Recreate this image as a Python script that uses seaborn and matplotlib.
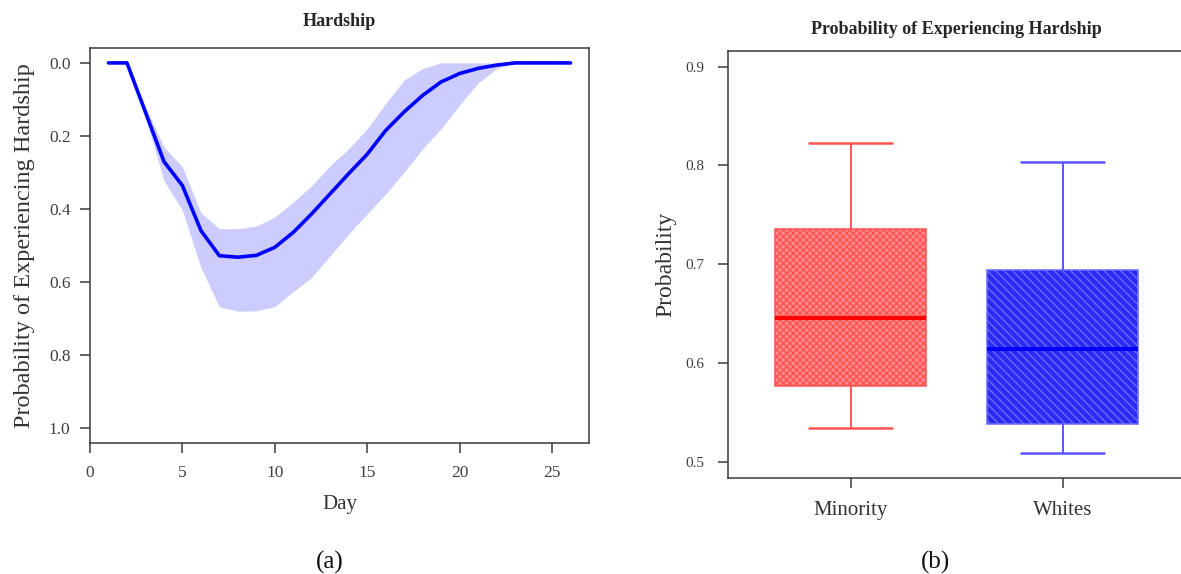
import numpy as np
import pandas as pd
import matplotlib
matplotlib.use("Agg")
import matplotlib.pyplot as plt
import seaborn as sns

# ---------------- data ----------------
days = list(range(1, 27))
prob_mean = [0.0, 0.0, 0.135, 0.27, 0.336, 0.459, 0.528, 0.532, 0.527, 0.505,
             0.464, 0.413, 0.358, 0.303, 0.250, 0.185, 0.134, 0.089, 0.052, 0.029,
             0.015, 0.006, 0.0, 0.0, 0.0, 0.0]
band_low = [0.0, 0.0, 0.12, 0.23, 0.285, 0.41, 0.454, 0.454, 0.447, 0.422,
            0.381, 0.336, 0.281, 0.235, 0.18, 0.111, 0.047, 0.015, 0.0, 0.0,
            0.0, 0.0, 0.0, 0.0, 0.0, 0.0]
band_high = [0.0, 0.0, 0.15, 0.322, 0.404, 0.56, 0.668, 0.68, 0.679, 0.667,
             0.626, 0.587, 0.528, 0.468, 0.413, 0.359, 0.299, 0.235, 0.18, 0.115,
             0.055, 0.015, 0.0, 0.0, 0.0, 0.0]
left_xticks = [0, 5, 10, 15, 20, 25]
left_yticks = [0.0, 0.2, 0.4, 0.6, 0.8, 1.0]

groups = ["Minority", "Whites"]
# five-number summaries (min, Q1, median, Q3, max)
minority_vals = [0.534, 0.577, 0.6455, 0.7356, 0.823]
whites_vals = [0.5087, 0.5386, 0.6145, 0.6944, 0.803]
right_yticks = [0.5, 0.6, 0.7, 0.8, 0.9]

# ---------------- style ----------------
sns.set_theme(style="ticks")
plt.rcParams["font.family"] = ["Liberation Serif", "DejaVu Serif"]
plt.rcParams["hatch.linewidth"] = 1.0
spine_col = "#3a3a3a"
tick_col = "#404040"

fig = plt.figure(figsize=(11.81, 5.74), dpi=100)
W, H = 1181, 574

def axes_px(l, t, r, b):
    return fig.add_axes([l / W, 1 - b / H, (r - l) / W, (b - t) / H])

# ---------------- panel (a) ----------------
ax1 = axes_px(90, 48.3, 589, 442.7)
line_df = pd.DataFrame({"Day": days, "p": prob_mean})
ax1.fill_between(days, band_low, band_high, color="#CCCCFF", linewidth=0)
sns.lineplot(data=line_df, x="Day", y="p", color="#0000FF", linewidth=2.6, ax=ax1)
ax1.set_xlim(0, 27)
ax1.set_ylim(1.04, -0.04)
ax1.set_xticks(left_xticks)
ax1.set_yticks(left_yticks)
ax1.set_yticklabels([f"{v:.1f}" for v in left_yticks])
ax1.set_title("Hardship", fontsize=13, fontweight="bold", pad=16)
ax1.set_xlabel("Day", fontsize=15, color="#333333", labelpad=10)
ax1.set_ylabel("Probability of Experiencing Hardship", fontsize=17.5, color="#333333", labelpad=10)
ax1.tick_params(axis="x", length=7, width=1.1, color=spine_col, labelsize=12.5, labelcolor=tick_col, pad=9)
ax1.tick_params(axis="y", length=7, width=1.1, color=spine_col, labelsize=12.5, labelcolor=tick_col, pad=7)

# ---------------- panel (b) ----------------
ax2 = axes_px(727.8, 50.7, 1185.4, 477.7)
box_df = pd.DataFrame({"group": np.repeat(groups, 5),
                       "prob": minority_vals + whites_vals})
styles = {
    "Minority": dict(face="#FF8A8A", edge="#FF5252", med="#FF0000", wh="#FF5555", hatch="xxxxx"),
    "Whites": dict(face="#2A2AF0", edge="#6A6AFF", med="#0000FF", wh="#5555FF", hatch="\\\\\\\\"),
}
for i, g in enumerate(groups):
    s = styles[g]
    sns.boxplot(data=box_df[box_df["group"] == g], x="group", y="prob", order=groups,
                color=s["face"], linecolor=s["edge"], saturation=1, width=0.71,
                whis=(0, 100), linewidth=1.1,
                medianprops=dict(color=s["med"], linewidth=2.9),
                whiskerprops=dict(color=s["wh"], linewidth=1.4),
                capprops=dict(color=s["wh"], linewidth=1.8),
                capwidths=0.39, ax=ax2)
    ax2.patches[i].set_hatch(s["hatch"])
ax2.set_xlim(-0.58, 1.58)
ax2.set_ylim(0.484, 0.916)
ax2.set_yticks(right_yticks)
ax2.set_yticklabels([f"{v:.1f}" for v in right_yticks])
ax2.set_title("Probability of Experiencing Hardship", fontsize=13, fontweight="bold", pad=12)
ax2.set_xlabel("")
ax2.set_ylabel("Probability", fontsize=17, color="#333333", labelpad=6)
ax2.tick_params(axis="x", length=7, width=1.1, color=spine_col, labelsize=15, labelcolor="#333333", pad=10)
ax2.tick_params(axis="y", length=7, width=1.1, color=spine_col, labelsize=11, labelcolor=tick_col, pad=10)

for ax in (ax1, ax2):
    for sp in ax.spines.values():
        sp.set_color(spine_col)
        sp.set_linewidth(1.1)
        sp.set_visible(True)
    ax.grid(False)

fig.text(330 / W, 1 - 562 / H, "(a)", fontsize=18, ha="center", va="center", color="#111111")
fig.text(935 / W, 1 - 562 / H, "(b)", fontsize=18, ha="center", va="center", color="#111111")

fig.savefig("out.png", dpi=100, facecolor="white")
